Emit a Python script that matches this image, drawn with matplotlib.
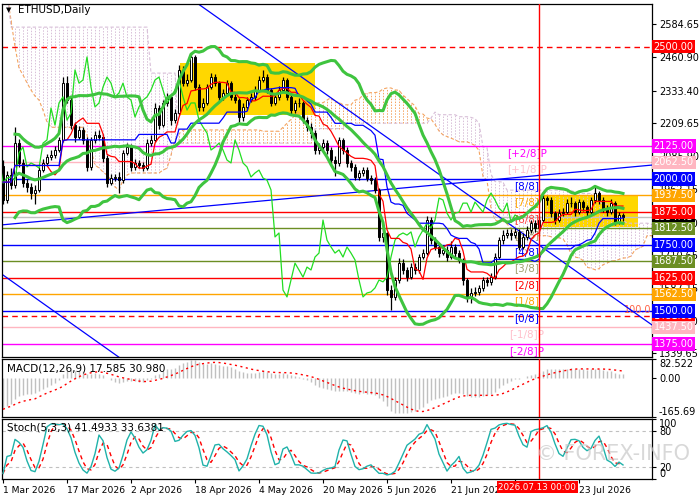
import numpy as np
import pandas as pd
import matplotlib
matplotlib.use("Agg")
import matplotlib.pyplot as plt
import matplotlib.transforms as mtrans
from matplotlib.patches import Rectangle

# ---- data (bar 0 = 1 Mar 2026) ----
first_open = 2050
closes = [1920, 2014, 1976, 2135, 2060, 1984, 1969, 1946, 1958, 2033,
          2060, 2083, 2090, 2109, 2147, 2362, 2298, 2203, 2158, 2185,
          2147, 2045, 2147, 2166, 2158, 2079, 1984, 2003, 2007, 1995,
          2098, 2120, 2045, 2060, 2052, 2041, 2135, 2147, 2268, 2203,
          2287, 2310, 2222, 2249, 2412, 2362, 2374, 2461, 2347, 2272,
          2287, 2347, 2385, 2362, 2310, 2325, 2362, 2310, 2298, 2234,
          2272, 2298, 2310, 2336, 2374, 2385, 2336, 2287, 2310, 2336,
          2374, 2310, 2260, 2287, 2287, 2222, 2196, 2173, 2109, 2120,
          2135, 2109, 2071, 2060, 2147, 2109, 2060, 2045, 2007, 2022,
          2033, 2003, 1995, 1958, 1780, 1795, 1579, 1553, 1617, 1681,
          1655, 1628, 1666, 1655, 1704, 1719, 1844, 1768, 1742, 1719,
          1731, 1704, 1742, 1719, 1693, 1617, 1553, 1568, 1572, 1587,
          1617, 1610, 1628, 1704, 1768, 1787, 1795, 1787, 1799, 1742,
          1780, 1806, 1833, 1814, 1844, 1927, 1920, 1870, 1844, 1870,
          1874, 1908, 1908, 1874, 1912, 1893, 1874, 1920, 1946, 1920,
          1889, 1874, 1908, 1836, 1863, 1854.43]
highs = [2070, 2030, 2040, 2196, 2150, 2075, 2000, 1985, 1975, 2045,
         2075, 2095, 2110, 2125, 2160, 2385, 2390, 2310, 2215, 2200,
         2195, 2160, 2160, 2180, 2185, 2170, 2090, 2020, 2020, 2025,
         2110, 2135, 2130, 2075, 2070, 2065, 2150, 2165, 2285, 2280,
         2300, 2325, 2320, 2265, 2430, 2425, 2395, 2475, 2470, 2360,
         2305, 2360, 2400, 2395, 2370, 2340, 2375, 2370, 2320, 2305,
         2285, 2310, 2325, 2350, 2390, 2410, 2395, 2345, 2325, 2350,
         2385, 2380, 2320, 2300, 2305, 2295, 2235, 2210, 2185, 2135,
         2150, 2145, 2120, 2085, 2160, 2155, 2120, 2070, 2055, 2035,
         2045, 2045, 2015, 2005, 1965, 1815, 1800, 1600, 1630, 1700,
         1695, 1665, 1680, 1680, 1715, 1735, 1860, 1855, 1780, 1755,
         1750, 1745, 1765, 1755, 1730, 1700, 1625, 1585, 1590, 1600,
         1630, 1630, 1645, 1720, 1780, 1805, 1810, 1810, 1815, 1810,
         1795, 1820, 1845, 1845, 1860, 1940, 1935, 1930, 1880, 1885,
         1890, 1925, 1930, 1915, 1925, 1920, 1900, 1930, 1969, 1955,
         1930, 1900, 1925, 1915, 1875, 1872]
lows = [1905, 1910, 1960, 1965, 2045, 1970, 1950, 1925, 1905, 1950,
        2025, 2050, 2070, 2080, 2100, 2140, 2285, 2190, 2140, 2150,
        2130, 2030, 2035, 2135, 2145, 2065, 1970, 1975, 1990, 1946,
        1985, 2090, 2030, 2035, 2040, 2030, 2035, 2125, 2140, 2190,
        2195, 2275, 2205, 2210, 2240, 2350, 2350, 2365, 2335, 2255,
        2255, 2280, 2340, 2350, 2295, 2300, 2315, 2300, 2285, 2215,
        2220, 2260, 2290, 2300, 2330, 2365, 2325, 2275, 2280, 2300,
        2330, 2300, 2245, 2250, 2270, 2210, 2180, 2155, 2095, 2095,
        2110, 2095, 2055, 2010, 2050, 2095, 2045, 2030, 1995, 1995,
        2010, 1990, 1980, 1945, 1765, 1760, 1560, 1504, 1540, 1605,
        1640, 1615, 1620, 1640, 1645, 1695, 1710, 1755, 1730, 1705,
        1710, 1690, 1695, 1705, 1680, 1600, 1535, 1530, 1555, 1560,
        1575, 1595, 1600, 1620, 1695, 1755, 1775, 1770, 1775, 1730,
        1735, 1770, 1795, 1800, 1790, 1835, 1900, 1855, 1830, 1835,
        1860, 1865, 1895, 1860, 1865, 1880, 1860, 1865, 1910, 1905,
        1875, 1860, 1865, 1825, 1828, 1840]

# cloud for the first 78 bars (built from history before the window)
span_a_early = ([2720, 2700, 2600, 2500, 2419, 2393, 2363, 2336, 2313, 2298, 2260, 2215]
                + [2195] * 9
                + [2166, 2109, 2052, 2041, 2026, 2014, 1995, 1969, 1958, 1995, 2014]
                + [2022] * 8
                + [2033, 2040, 2090, 2147, 2170]
                + [2185] * 20 + [2180] * 5
                + [2195, 2210, 2225, 2240, 2255, 2270, 2285, 2300])
span_b_early = [2720, 2710] + [2574] * 35 + [2400] * 7 + [2135] * 34

# MACD state on 28 Feb
ema12_start = 1960
ema26_start = 2100

date_ticks = [0, 16, 32, 48, 64, 80, 96, 112, 128, 144]
# the 7 Jul label sits under the cursor date box
date_labels = ["1 Mar 2026", "17 Mar 2026", "2 Apr 2026", "18 Apr 2026", "4 May 2026",
               "20 May 2026", "5 Jun 2026", "21 Jun 2026", "", "23 Jul 2026"]
marker_bar = 134
marker_label = "2026.07.13 00:00"

levels = [2125, 2062.5, 2000, 1937.5, 1875, 1812.5, 1750, 1687.5, 1625, 1562.5, 1500, 1437.5, 1375]
level_names = ["[+2/8]P", "[+1/8]P", "[8/8]", "[7/8]", "[6/8]", "[5/8]", "[4/8]",
               "[3/8]", "[2/8]", "[1/8]", "[0/8]", "[-1/8]P", "[-2/8]P"]
level_colors = ["#ff00ff", "#ffb6c1", "#0000ff", "#ffa500", "#ff0000", "#6b8e23", "#0000ff",
                "#6b8e23", "#ff0000", "#ffa500", "#0000ff", "#ffb6c1", "#ff00ff"]
level_text_colors = ["#ff00ff", "#ffc0cb", "#0000ff", "#ffa500", "#ff4040", "#a0a070", "#0000ff",
                     "#a0a070", "#ff0000", "#ffa500", "#0000ff", "#ffc0cb", "#ff00ff"]
price_ticks = [2584.65, 2460.90, 2333.40, 2209.65, 2085.90, 1962.15, 1834.40, 1710.65, 1587.15, 1463.40, 1339.65]

# trend lines (bar, price)
trend_lines = [((48.5, 2665), (162.25, 1447)),
               ((-0.75, 1644), (30, 1314)),
               ((-0.75, 1825), (162.25, 2052))]
boxes = [((44.25, 2241), (78, 2438)), ((135, 1818), (158.75, 1935))]

# ---- indicators ----
c = pd.Series(closes, dtype=float)
h = pd.Series(highs, dtype=float)
l = pd.Series(lows, dtype=float)
o = c.shift(1)
o.iloc[0] = first_open
n = len(c)
x = np.arange(n)

tenkan = (h.rolling(9, min_periods=1).max() + l.rolling(9, min_periods=1).min()) / 2
kijun = (h.rolling(26, min_periods=1).max() + l.rolling(26, min_periods=1).min()) / 2
span_a = np.full(n + 26, np.nan)
span_b = np.full(n + 26, np.nan)
span_a[26:] = ((tenkan + kijun) / 2).values
span_b[26:] = ((h.rolling(52, min_periods=1).max() + l.rolling(52, min_periods=1).min()) / 2).values
span_a[:78] = span_a_early
span_b[:78] = span_b_early
xs = np.arange(n + 26)

bb_mid = c.rolling(20, min_periods=4).mean()
bb_sd = c.rolling(20, min_periods=4).std(ddof=0)
bb_up = bb_mid + 2 * bb_sd
bb_lo = bb_mid - 2 * bb_sd

e12, e26 = ema12_start, ema26_start
macd = []
for v in closes:
    e12 = e12 + (v - e12) * 2 / 13
    e26 = e26 + (v - e26) * 2 / 27
    macd.append(e12 - e26)
macd = pd.Series(macd)
signal = macd.rolling(9, min_periods=1).mean()

ll = l.rolling(5, min_periods=1).min()
hh = h.rolling(5, min_periods=1).max()
stoch_k = 100 * (c - ll).rolling(3, min_periods=1).sum() / (hh - ll).rolling(3, min_periods=1).sum()
stoch_d = stoch_k.rolling(3, min_periods=1).mean()

# ---- figure ----
plt.rcParams['font.family'] = ['DejaVu Sans']
fig = plt.figure(figsize=(7, 5), dpi=100)
W, H = 700.0, 500.0
ax = fig.add_axes([2 / W, 1 - 357 / H, 650 / W, 353 / H])
axm = fig.add_axes([2 / W, 1 - 417 / H, 650 / W, 58 / H], sharex=ax)
axs = fig.add_axes([2 / W, 1 - 479 / H, 650 / W, 60 / H], sharex=ax)

for a in (ax, axm, axs):
    a.set_facecolor("white")
    for s in a.spines.values():
        s.set_linewidth(0.9)
        s.set_color("black")
    a.yaxis.tick_right()
    a.tick_params(axis="y", labelsize=7, length=3, pad=2, direction="out")
    a.axvline(marker_bar, color="#ff0000", lw=1, zorder=6)

ax.set_xlim(-0.25, 162.25)
ax.set_ylim(1325.7, 2661.5)

# yellow boxes
for (x0, y0), (x1, y1) in boxes:
    ax.add_patch(Rectangle((x0, y0), x1 - x0, y1 - y0, color="#ffd700", lw=0, zorder=0.5))

# ichimoku cloud
vis = xs <= 163
for i in xs[vis]:
    a_, b_ = span_a[i], span_b[i]
    col = "#f4a460" if a_ > b_ else "#d8bfd8"
    ax.vlines(i, min(a_, b_), max(a_, b_), colors=col, lw=0.7, linestyles=(0, (1.5, 1.5)), zorder=1)
ax.plot(xs[vis], span_a[vis], color="#f4a460", lw=0.8, ls=(0, (3, 2)), zorder=1.2)
ax.plot(xs[vis], span_b[vis], color="#d8bfd8", lw=0.8, ls=(0, (3, 2)), zorder=1.2)

# levels
for lv, nm, col, tcol in zip(levels, level_names, level_colors, level_text_colors):
    ax.axhline(lv, color=col, lw=1, zorder=1.5)
    ax.text(131, lv - 8, nm, color=tcol, fontsize=7.5, ha="center", va="top", zorder=1.6)
ax.axhline(2500, color="#ff0000", lw=1, ls=(0, (4, 3)), zorder=1.5)
ax.axhline(1481, color="#ff0000", lw=1, ls=(0, (4, 3)), zorder=1.5)
ax.axhline(1854.43, color="#c0c0c0", lw=1, zorder=1.5)
ax.text(162, 1484, "100.0", color="#ff6347", fontsize=7, ha="right", va="bottom", zorder=1.6)

# trend lines
for (x0, y0), (x1, y1) in trend_lines:
    ax.plot([x0, x1], [y0, y1], color="#0000ff", lw=0.9, zorder=1.8)

# candles
up = c >= o
ax.vlines(x, l, h, color="black", lw=0.9, zorder=2)
ax.bar(x[up], (c - o)[up], bottom=o[up], width=0.6, color="white", edgecolor="black", lw=0.7, zorder=2.1)
ax.bar(x[~up], (o - c)[~up], bottom=c[~up], width=0.6, color="black", edgecolor="black", lw=0.7, zorder=2.1)

# indicators on price
ax.plot(x - 26, c, color="#22dd22", lw=0.9, zorder=3)
ax.plot(x, tenkan, color="#ff0000", lw=0.9, zorder=3.1)
ax.plot(x, kijun, color="#0000ff", lw=0.9, zorder=3.1)
for band in (bb_up, bb_mid, bb_lo):
    ax.plot(x, band, color="#3fc43f", lw=2.2, zorder=3.2)

# price axis
ax.set_yticks(price_ticks)
ax.set_yticklabels([f"{p:.2f}" for p in price_ticks])
blend = mtrans.blended_transform_factory(ax.transAxes, ax.transData)
right_labels = [(1854.43, "1854.43", "#000000"), (1481, "1481.00", "#ff0000"),
                (2500, "2500.00", "#ff0000")]
right_labels += [(lv, f"{lv:.2f}", col) for lv, col in zip(levels, level_colors)]
for p, txt, col in right_labels:
    ax.text(1.0025, p, txt, transform=blend, ha="left", va="center", fontsize=7, color="white",
            bbox=dict(boxstyle="square,pad=0.18", fc=col, ec="none"), clip_on=False, zorder=10)

ax.text(0.006, 0.982, "\u25bc", transform=ax.transAxes, fontsize=5, va="center", ha="left")
ax.text(0.024, 0.982, "ETHUSD,Daily", transform=ax.transAxes, fontsize=7.5, va="center", ha="left")

# MACD
axm.vlines(x, 0, macd, colors="#c0c0c0", lw=1, zorder=2)
axm.plot(x, signal, color="#ff0000", lw=1, ls=(0, (1.5, 2.5)), zorder=3)
axm.set_ylim(-165.69, 82.522)
axm.set_yticks([82.522, 0, -165.69])
axm.set_yticklabels(["82.522", "0.00", "-165.69"])
axm.get_yticklabels()[0].set_va("top")
axm.get_yticklabels()[2].set_va("bottom")
axm.text(0.008, 0.83, "MACD(12,26,9) 17.585 30.980", transform=axm.transAxes, fontsize=7.5, va="center")

# Stochastic
axs.axhline(80, color="#c0c0c0", lw=0.8, ls=(0, (3, 3)))
axs.axhline(20, color="#c0c0c0", lw=0.8, ls=(0, (3, 3)))
axs.plot(x, stoch_k, color="#20b2aa", lw=1, zorder=3)
axs.plot(x, stoch_d, color="#ff0000", lw=1, ls=(0, (3, 2.5)), zorder=2.9)
axs.set_ylim(0, 100)
axs.set_yticks([100, 80, 20, 0])
axs.set_yticklabels(["100", "80", "20", "0"])
axs.get_yticklabels()[0].set_va("top")
axs.get_yticklabels()[3].set_va("bottom")
axs.text(0.008, 0.85, "Stoch(5,3,3) 41.4933 33.6381", transform=axs.transAxes, fontsize=7.5, va="center")

plt.setp(ax.get_xticklabels(), visible=False)
plt.setp(axm.get_xticklabels(), visible=False)
ax.tick_params(axis="x", length=0)
axm.tick_params(axis="x", length=0)
axs.set_xticks(date_ticks)
axs.set_xticklabels(date_labels, ha="left")
axs.tick_params(axis="x", labelsize=6.6, length=3, pad=2)

bt = mtrans.blended_transform_factory(axs.transData, axs.transAxes)
axs.text(marker_bar - 0.4, -0.06, marker_label, transform=bt, ha="center", va="top", fontsize=6.3,
         color="white", bbox=dict(boxstyle="square,pad=0.15", fc="#ff0000", ec="none"),
         clip_on=False, zorder=10)

fig.text(0.765, 0.093, "\u00a9 FOREX-INFO", fontsize=15, color="#c8c8c8", alpha=0.7,
         ha="left", va="center", zorder=20)

fig.savefig("out.png", dpi=100)
